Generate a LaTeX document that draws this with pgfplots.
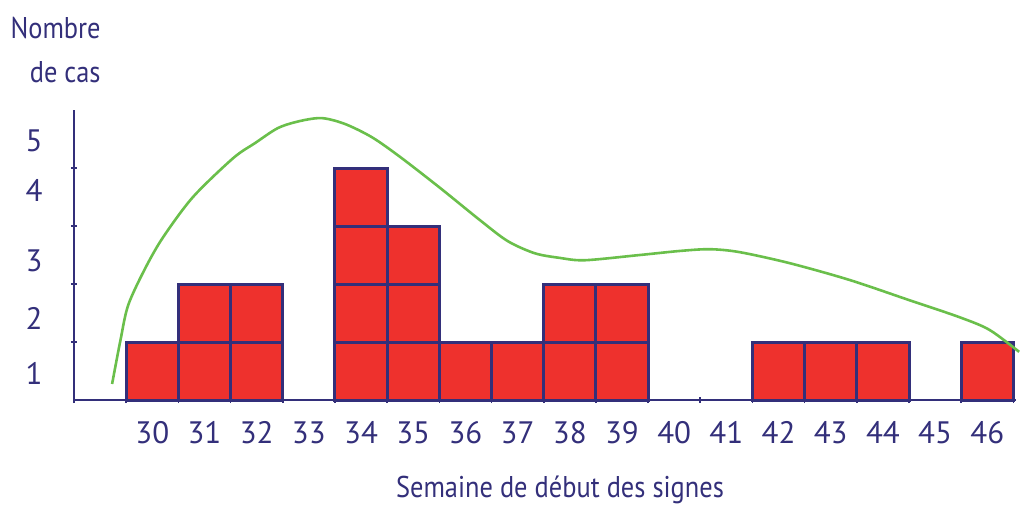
\documentclass[border=0pt]{standalone}
\usepackage{pgfplots}
\pgfplotsset{compat=1.18}
\usepackage{fontspec}
\setmainfont{PT Sans}
\newfontfamily\narrowfont{PT Sans}[FakeStretch=0.88]
\definecolor{navy}{HTML}{332F7A}
\definecolor{cred}{HTML}{EE312D}
\definecolor{cgreen}{HTML}{6ABF4B}
\begin{document}
\begin{tikzpicture}
\begin{axis}[
 at={(0,0)}, anchor=south west,
 scale only axis, width=471pt, height=145pt,
 xmin=28.5, xmax=46.55, ymin=0, ymax=5,
 axis lines=left, axis line style={navy, line width=1.2pt, -},
 clip=false,
 xtick={30,...,46}, ytick={0.466,1.41,2.40,3.62,4.47}, yticklabels={1,2,3,4,5},
 major tick length=0pt,
 minor xtick={28.5,29.5,...,46.5}, minor ytick={1,2,3,4},
 minor tick length=3pt, tick align=center,
 minor tick style={navy, line width=0.8pt},
 tick label style={font=\fontsize{15.5}{18}\selectfont, text=navy},
 /pgf/number format/assume math mode=true,
 xticklabel style={anchor=base, inner sep=0pt, yshift=-21.5pt},
 yticklabel style={anchor=east, inner sep=0pt, xshift=-15.5pt},
]
\addplot[ybar, bar width=1, bar shift=0pt, fill=cred, draw=navy, line width=1.5pt] coordinates {(30,1)(31,2)(32,2)(34,4)(35,3)(36,1)(37,1)(38,2)(39,2)(42,1)(43,1)(44,1)(46,1)};
\addplot[ybar, bar width=1, bar shift=0pt, fill=cred, draw=navy, line width=1.5pt] coordinates {(34,3)};
\addplot[ybar, bar width=1, bar shift=0pt, fill=cred, draw=navy, line width=1.5pt] coordinates {(34,2)(35,2)};
\addplot[ybar, bar width=1, bar shift=0pt, fill=cred, draw=navy, line width=1.5pt] coordinates {(31,1)(32,1)(34,1)(35,1)(38,1)(39,1)};
\addplot[cgreen, line width=1.3pt, smooth] coordinates {
(29.23,0.276)(29.39,1.03)(29.54,1.64)(29.87,2.28)(30.21,2.81)(30.78,3.50)(31.55,4.17)(31.97,4.43)(32.41,4.69)(32.83,4.81)(33.25,4.86)(33.69,4.76)(34.21,4.53)(34.75,4.19)(35.51,3.66)(36.28,3.10)(36.81,2.74)(37.33,2.53)(37.81,2.45)(38.29,2.41)(39.34,2.50)(40.11,2.57)(40.68,2.60)(41.25,2.55)(42.21,2.36)(43.36,2.07)(44.51,1.72)(45.46,1.43)(46.04,1.21)(46.61,0.83)};
\end{axis}
\node[anchor=base east, text=navy, font=\narrowfont\fontsize{15}{18}\selectfont, inner sep=0pt] at (13.5pt,181pt) {Nombre};
\node[anchor=base east, text=navy, font=\narrowfont\fontsize{15}{18}\selectfont, inner sep=0pt] at (13.5pt,159pt) {de cas};
\node[anchor=base, text=navy, font=\narrowfont\fontsize{15}{18}\selectfont, inner sep=0pt] at (243pt,-48.5pt) {Semaine de début des signes};
\pgfresetboundingbox
\path (-37pt,-52.5pt) rectangle (473.5pt,200pt);
\end{tikzpicture}
\end{document}
